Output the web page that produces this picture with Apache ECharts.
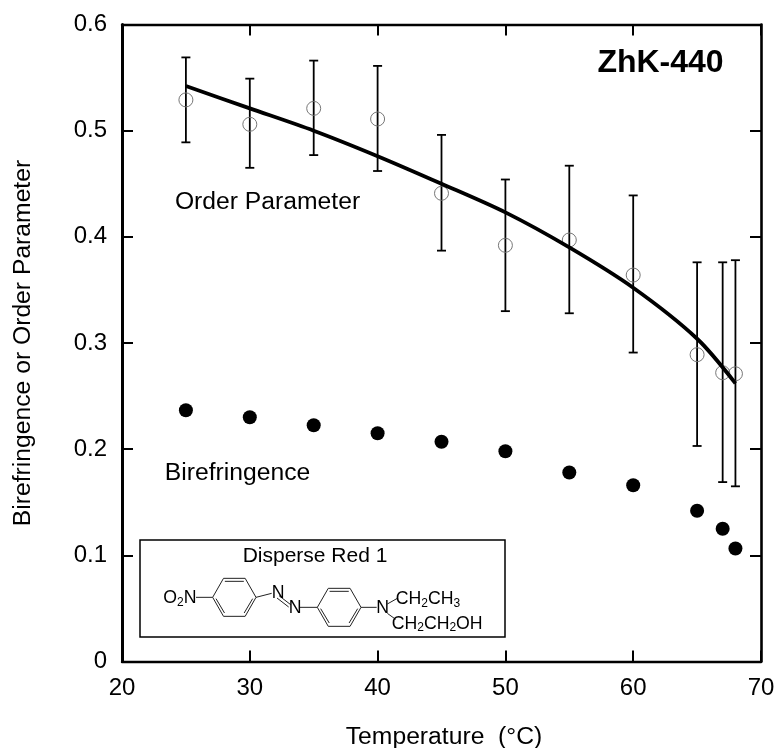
<!DOCTYPE html>
<html><head><meta charset="utf-8">
<style>html,body{margin:0;padding:0;background:#fff}#c{width:775px;height:748px}</style>
<script src="https://cdn.jsdelivr.net/npm/echarts@6/dist/echarts.min.js"></script>
</head><body><div id="c"></div>
<script>
const temps = [25,30,35,40,45,50,55,60,65,67,68];
const orderParam = [0.529,0.506,0.521,0.511,0.441,0.392,0.397,0.364,0.289,0.272,0.271];
const errHigh = [0.569,0.549,0.566,0.561,0.496,0.454,0.467,0.439,0.376,0.376,0.378];
const errLow = [0.489,0.465,0.477,0.462,0.387,0.330,0.328,0.291,0.203,0.169,0.165];
const fitTemps = [25,30,35,40,45,50,55,60,65,68];
const fitLine = [0.542,0.521,0.500,0.476,0.450,0.423,0.390,0.352,0.304,0.262];
const birefringence = [0.2366,0.230,0.2225,0.215,0.207,0.198,0.178,0.166,0.142,0.125,0.1065];

const FONT = '"Liberation Sans", Arial, sans-serif';
const chart = echarts.init(document.getElementById('c'), null, {renderer:'canvas'});

const axisCommon = w => ({
  axisLine:{show:true,onZero:false,lineStyle:{color:'#000',width:w}},
  axisTick:{show:true,inside:true,length:11,lineStyle:{color:'#000',width:2}},
  splitLine:{show:false},
});
const lbl = {color:'#000',fontFamily:FONT,fontSize:24};
const ttl = {color:'#000',fontFamily:FONT,fontSize:24.7};

// Inset molecule drawing: reference zoom coordinates -> page pixels
const zx = x => 130 + x/3, zy = y => 530 + y/3;
const bond = (x1,y1,x2,y2,w) => ({type:'line',silent:true,z:50,
  shape:{x1:zx(x1),y1:zy(y1),x2:zx(x2),y2:zy(y2)},
  style:{stroke:'#222',lineWidth:w||1}});
const ring = (l,cy,r,hw) => {
  const a=l+(r-l)*0.25, b=l+(r-l)*0.75, t=cy-hw, u=cy+hw;
  return [bond(l,cy,a,t),bond(a,t,b,t),bond(b,t,r,cy),bond(r,cy,b,u),bond(b,u,a,u),bond(a,u,l,cy),
    bond(a+4,t+9,b-4,t+9),bond(r-10,cy+4,b-3,u-10),bond(l+10,cy+4,a+3,u-10)];
};
const subStyle = {
  n:{fontSize:17.7,fontFamily:FONT,color:'#000'},
  s:{fontSize:12,fontFamily:FONT,color:'#000',verticalAlign:'bottom',padding:[8,0,0,0]}
};
const chem = (x,y,text) => ({type:'text',silent:true,z:51,x:zx(x),y:zy(y),
  style:{text,rich:subStyle,font:'17.7px '+FONT,fill:'#000',verticalAlign:'middle',align:'left'}});
const plain = (x,y,text,size,weight) => ({type:'text',silent:true,z:51,x,y,
  style:{text,fill:'#000',font:(weight||'normal')+' '+size+'px '+FONT,align:'center',verticalAlign:'middle'}});

chart.setOption({
  animation:false,
  backgroundColor:'#fff',
  grid:{left:122,right:14,top:24.5,bottom:86.5,containLabel:false,outerBoundsMode:'none'},
  xAxis:[
    Object.assign({type:'value',min:20,max:70,interval:10,position:'bottom',
      name:'Temperature  (°C)',nameLocation:'middle',nameGap:63,
      nameTextStyle:Object.assign({padding:[0,0,0,5]},ttl),axisLabel:Object.assign({margin:15},lbl)},axisCommon(2.4)),
    Object.assign({type:'value',min:20,max:70,interval:10,position:'top',axisLabel:{show:false}},axisCommon(2.4))
  ],
  yAxis:[
    Object.assign({type:'value',min:0,max:0.6,interval:0.1,position:'left',
      name:'Birefringence or Order Parameter',nameLocation:'middle',nameGap:86,
      nameTextStyle:ttl,axisLabel:Object.assign({margin:15,formatter:v=>v===0?'0':v.toFixed(1)},lbl)},axisCommon(3)),
    Object.assign({type:'value',min:0,max:0.6,interval:0.1,position:'right',axisLabel:{show:false}},axisCommon(2.6))
  ],
  series:[
    {type:'custom',name:'Error',coordinateSystem:'cartesian2d',z:3,clip:false,
      data:temps.map((t,i)=>[t,errLow[i],errHigh[i]]),
      encode:{x:0,y:[1,2]},
      renderItem:(p,api)=>{
        const a=api.coord([api.value(0),api.value(1)]), b=api.coord([api.value(0),api.value(2)]);
        const st={stroke:'#000',lineWidth:1.8};
        return {type:'group',children:[
          {type:'line',shape:{x1:a[0],y1:a[1],x2:b[0],y2:b[1]},style:st},
          {type:'line',shape:{x1:a[0]-4.5,y1:a[1],x2:a[0]+4.5,y2:a[1]},style:st},
          {type:'line',shape:{x1:b[0]-4.5,y1:b[1],x2:b[0]+4.5,y2:b[1]},style:st}
        ]};
      }},
    {type:'scatter',name:'Order Parameter',z:4,symbol:'circle',symbolSize:14,
      data:temps.map((t,i)=>[t,orderParam[i]]),
      itemStyle:{color:'rgba(0,0,0,0)',borderColor:'#777',borderWidth:1,opacity:1}},
    {type:'line',name:'Fit',z:5,smooth:0.3,showSymbol:false,symbol:'none',
      data:fitTemps.map((t,i)=>[t,fitLine[i]]),
      lineStyle:{color:'#000',width:3.8}},
    {type:'scatter',name:'Birefringence',z:4,symbol:'circle',symbolSize:14,
      data:temps.map((t,i)=>[t,birefringence[i]]),
      itemStyle:{color:'#000',opacity:1}}
  ],
  graphic:[
    plain(660.5,63.5,'ZhK-440',32,'bold'),
    plain(267.5,202,'Order Parameter',24.7),
    plain(237.5,473,'Birefringence',24.7),
    {type:'rect',silent:true,z:49,shape:{x:140,y:540,width:365,height:97},
      style:{fill:'#fff',stroke:'#000',lineWidth:1.5}},
    plain(315,556,'Disperse Red 1',21),
    ...ring(248,202,378,57),
    ...ring(562,232,693,57),
    bond(198,202,248,202),
    bond(378,202,425,190),
    bond(447,197,482,224),bond(441,204,476,231),
    bond(510,232,562,232),
    bond(693,232,740,232),
    bond(772,222,802,205),
    bond(772,250,797,268),
    chem(100,205,'{n|O}{s|2}{n|N}'),
    chem(425,190,'{n|N}'),
    chem(476,235,'{n|N}'),
    chem(739,235,'{n|N}'),
    chem(797,208,'{n|CH}{s|2}{n|CH}{s|3}'),
    chem(785,282,'{n|CH}{s|2}{n|CH}{s|2}{n|OH}')
  ]
});
</script></body></html>
